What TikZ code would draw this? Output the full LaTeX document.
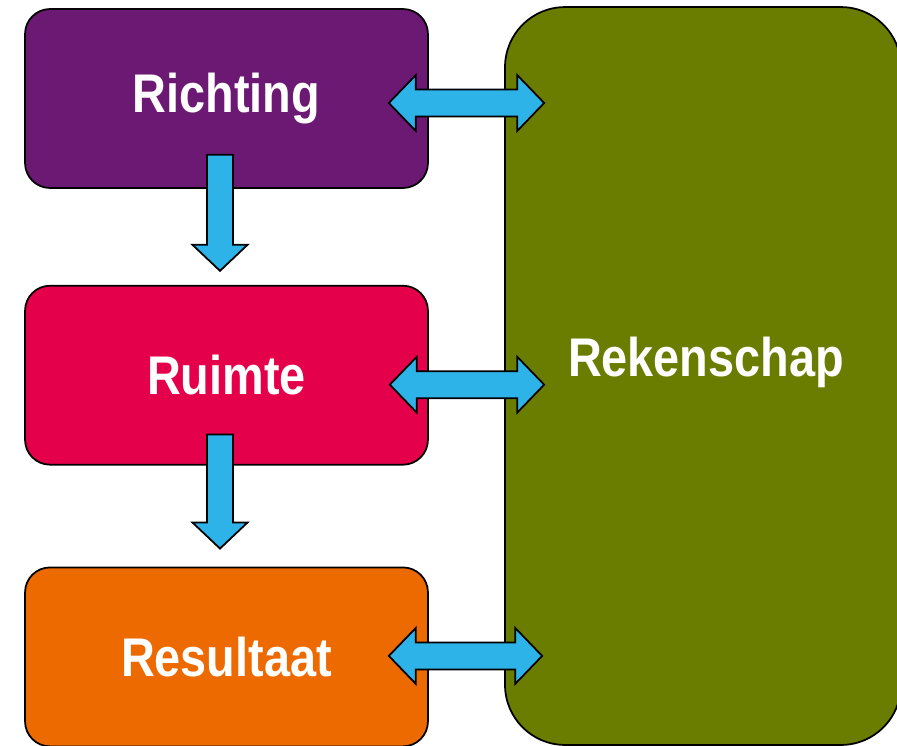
\documentclass[tikz,border=0pt]{standalone}
\usepackage{fontspec}
\newfontfamily\boxfont{Liberation Sans}[FakeStretch=0.86]
\usetikzlibrary{positioning, calc}
\definecolor{richtingpurple}{RGB}{108,25,115}
\definecolor{ruimtered}{RGB}{228,0,75}
\definecolor{resultaatorange}{RGB}{236,106,0}
\definecolor{rekenschapolive}{RGB}{107,125,0}
\definecolor{arrowblue}{RGB}{45,179,232}
\tikzset{
	box/.style={draw=black, line width=1pt, rounded corners=0.5cm, minimum width=8.06cm, minimum height=3.58cm, inner sep=0pt},
	boxtext/.style={text=white, font=\boxfont\bfseries\fontsize{31}{36}\selectfont, inner sep=0pt},
	dblarrow/.style={draw=black, fill=arrowblue, line width=1pt, line join=miter,
		to path={-- ++(27,-28) -- ++(0,14.5) -- ($(\tikztotarget)+(-27,-13.5)$) -- ++(0,-14.5) -- (\tikztotarget)
			-- ++(-27,28) -- ++(0,-14.5) -- ($(\tikztostart)+(27,13.5)$) -- ++(0,14.5) -- cycle}},
	downarrow/.style={draw=black, fill=arrowblue, line width=1pt, line join=miter,
		to path={-- ++(13,0) -- ($(\tikztotarget)+(13,-26)$) -- ++(14.5,0) -- (\tikztotarget)
			-- ++(-27.5,-26) -- ++(14.5,0) -- ($(\tikztostart)+(-13,0)$) -- cycle}}
}
\begin{document}
\begin{tikzpicture}[x=0.02cm, y=-0.02cm]
	\useasboundingbox (0,0) rectangle (897,745);
	
	\node[box, fill=richtingpurple, boxtext] (richting) at (226.5,98.5) {Richting};
	\node[box, fill=ruimtered, boxtext, below=1.92cm of richting] (ruimte) {Ruimte};
	\node[box, fill=resultaatorange, boxtext, below=2.02cm of ruimte] (resultaat) {Resultaat};
	\node[box, fill=rekenschapolive, rounded corners=1.2cm, minimum width=7.92cm, minimum height=14.76cm] (rekenschap) at (703,376) {};
	\node[boxtext] (rektext) at ($(rekenschap.center)+(3,-14)$) {Rekenschap};
	
	% tips of the arrows
	\coordinate (d1s) at ($(richting.south)+(-6.5,-34)$);
	\coordinate (d1e) at ($(ruimte.north)+(-6.5,-14)$);
	\coordinate (d2s) at ($(ruimte.south)+(-6.5,-31)$);
	\coordinate (d2e) at ($(resultaat.north)+(-6.5,-18)$);
	\coordinate (h1l) at ($(richting.east)+(-40,4.5)$);
	\coordinate (h1r) at ($(rekenschap.west |- h1l)+(40,0)$);
	\coordinate (h2l) at ($(ruimte.east)+(-39,9.5)$);
	\coordinate (h2r) at ($(rekenschap.west |- h2l)+(40,0)$);
	\coordinate (h3l) at ($(resultaat.east)+(-40,-1)$);
	\coordinate (h3r) at ($(rekenschap.west |- h3l)+(38,0)$);
	
	\draw[downarrow] (d1s) to (d1e);
	\draw[downarrow] (d2s) to (d2e);
	\draw[dblarrow] (h1l) to (h1r);
	\draw[dblarrow] (h2l) to (h2r);
	\draw[dblarrow] (h3l) to (h3r);
\end{tikzpicture}
\end{document}
